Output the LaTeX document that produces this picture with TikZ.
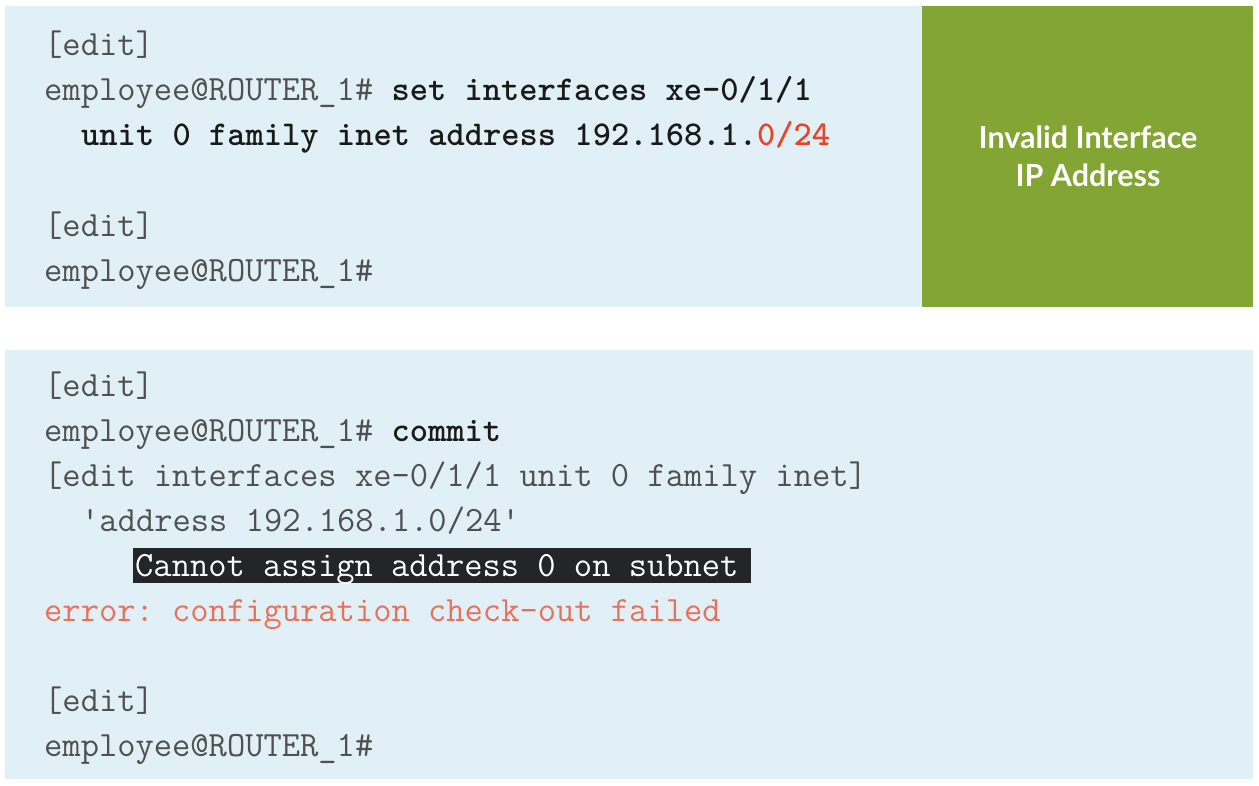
\documentclass[tikz,border=0pt]{standalone}
\usepackage{fontspec}
\newfontfamily\labelfont{Lato}
\definecolor{panelblue}{HTML}{E1F0F7}
\definecolor{boxgreen}{HTML}{83A533}
\definecolor{greytext}{HTML}{505050}
\definecolor{boldtext}{HTML}{1A1A1A}
\definecolor{redhl}{HTML}{E8442A}
\definecolor{errtext}{HTML}{E8715B}
\definecolor{hlbox}{HTML}{232529}
\newcommand\boldcode[1]{{\fontsize{34.8}{40}\selectfont\bfseries #1}}
\tikzset{
  codeline/.style={anchor=base west, inner sep=0pt,
    font=\ttfamily\fontsize{35.5}{40}\selectfont\frenchspacing, text=greytext},
}
\begin{document}
\begin{tikzpicture}[x=1pt,y=-1pt]
\useasboundingbox (0,0) rectangle (1259,786);
\fill[white] (0,0) rectangle (1259,786);
% panels
\fill[panelblue] (5,6) rectangle (922,307);
\fill[boxgreen] (922,6) rectangle (1253,307);
\fill[panelblue] (5,350) rectangle (1253,779);
% label
\node[align=center, text=white, inner sep=0pt,
  font=\labelfont\bfseries\fontsize{30.5}{38}\selectfont] (label) at (1088,156.5)
  {Invalid Interface\\IP Address};
% top code
\node[codeline] (t1) at (44,56) {[edit]};
\node[codeline] (t2) at (44,101) {employee@ROUTER\_1\# \textcolor{boldtext}{\boldcode{set interfaces xe-0/1/1}}};
\node[codeline, text=boldtext] (t3) at (81,146) {\boldcode{unit 0 family inet address 192.168.1.\textcolor{redhl}{0/24}}};
\node[codeline] (t4) at (44,237) {[edit]};
\node[codeline] (t5) at (44,282) {employee@ROUTER\_1\#};
% bottom code
\node[codeline] (b1) at (44,396) {[edit]};
\node[codeline] (b2) at (44,441) {employee@ROUTER\_1\# \textcolor{boldtext}{\boldcode{commit}}};
\node[codeline] (b3) at (44,486) {[edit interfaces xe-0/1/1 unit 0 family inet]};
\node[codeline] (b4) at (81,531) {\textquotesingle address 192.168.1.0/24\textquotesingle};
\fill[hlbox] (133,548) rectangle (751,583);
\node[codeline, text=white] (b5) at (135,576) {Cannot assign address 0 on subnet};
\node[codeline, text=errtext] (b6) at (44,621) {error: configuration check-out failed};
\node[codeline] (b7) at (44,711) {[edit]};
\node[codeline] (b8) at (44,756) {employee@ROUTER\_1\#};
\end{tikzpicture}
\end{document}
